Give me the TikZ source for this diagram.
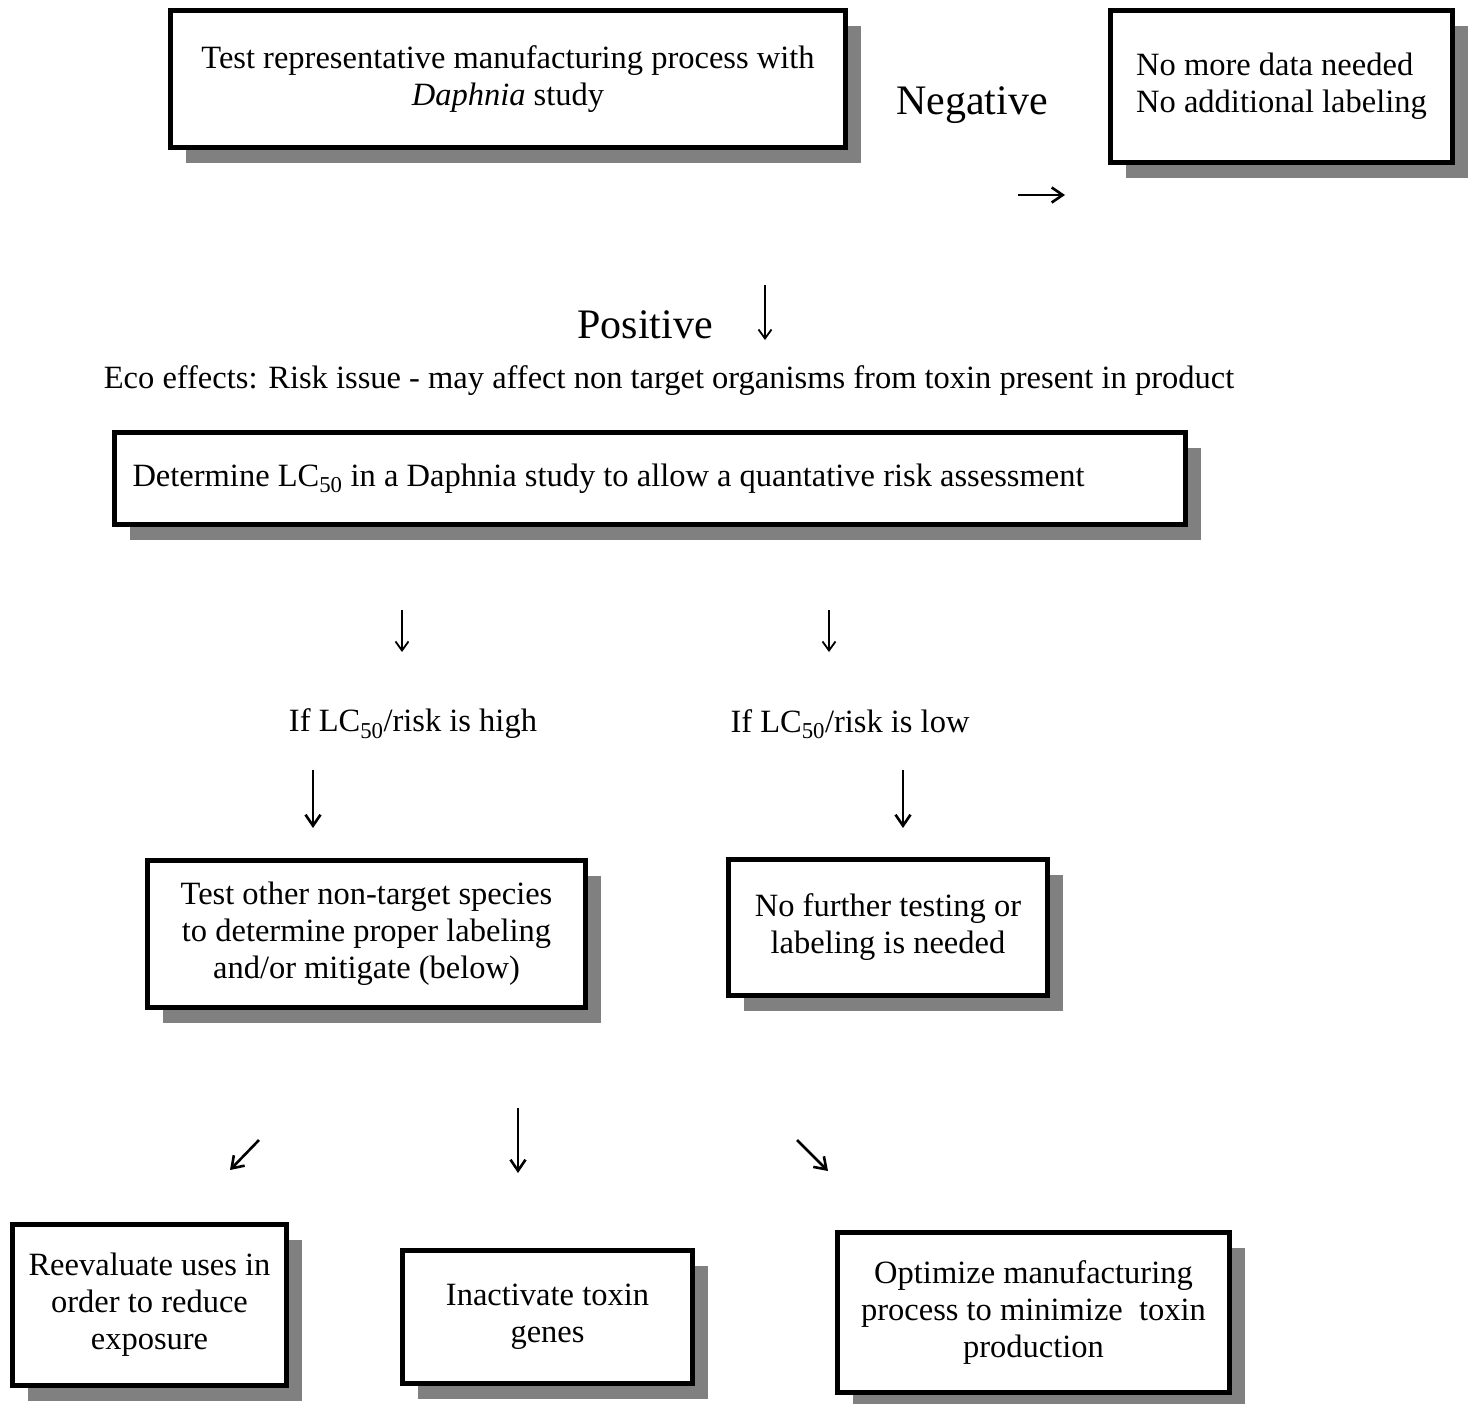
\documentclass[tikz,border=0pt]{standalone}
\usepackage{fontspec}
\setmainfont{Liberation Serif}
\usetikzlibrary{arrows.meta,shadows}
\definecolor{shadowgray}{RGB}{128,128,128}
\tikzset{
    box/.style ={
        rectangle,
        draw=black,
        line width=5pt,
        fill=white,
        align=center,
        general shadow={fill=shadowgray, shadow xshift=15pt, shadow yshift=-15pt},
        font=\fontsize{32.5}{37}\selectfont
    },
    label/.style={font=\fontsize{32.5}{37}\selectfont},
    biglabel/.style={font=\fontsize{42}{48}\selectfont},
    arr/.style={-{Straight Barb[length=9pt,width=13pt]}, line width=1.8pt},
    bigarr/.style={-{Straight Barb[length=11pt,width=15pt]}, line width=2.6pt}
}

\begin{document}
\begin{tikzpicture}[x=1pt,y=-1pt]
        \useasboundingbox (0,0) rectangle (1475,1403);
        \node[box,minimum width=675pt,minimum height=137pt] (TEST) at(508,79) {Test representative manufacturing process with\\\textit{Daphnia} study};
        \node[box,minimum width=342pt,minimum height=152pt,align=left] (NODATA) at(1281.5,86.5) {No more data needed\\No additional labeling};
        \node[box,minimum height=92pt,text width=1035pt,inner xsep=18pt,align=flush left] (LC) at(650,478.5) {Determine LC\textsubscript{50} in a Daphnia study to allow a quantative risk assessment};
        \node[box,minimum width=438pt,minimum height=147pt] (OTHER) at(366.5,934) {Test other non-target species\\to determine proper labeling\\and/or mitigate (below)};
        \node[box,minimum width=319pt,minimum height=136pt] (NOFURTHER) at(888,927.5) {No further testing or\\labeling is needed};
        \node[box,minimum width=274pt,minimum height=161pt] (REUSE) at(149.5,1305) {Reevaluate uses in\\order to reduce\\exposure};
        \node[box,minimum width=290pt,minimum height=133pt] (GENES) at(547.5,1317) {Inactivate toxin\\genes};
        \node[box,minimum width=392pt,minimum height=160pt] (OPTIMIZE) at(1033.5,1312.5) {Optimize manufacturing\\process to minimize\ \ toxin\\production};
        % labels
        \node[biglabel] (NEG) at(972,105) {Negative};
        \node[biglabel] (POS) at(645,325) {Positive};
        \node[label] (ECO) at(669,381) {Eco effects: Risk issue - may affect non target organisms from toxin present in product};
        \node[label] (HIGH) at(413,724) {If LC\textsubscript{50}/risk is high};
        \node[label] (LOW) at(850,724) {If LC\textsubscript{50}/risk is low};
        % arrows
        \coordinate (NEGA) at(1018,195);
        \coordinate (NEGB) at(1065,195);
        \coordinate (POSA) at(765,285);
        \coordinate (POSB) at(765,340);
        \coordinate (HIGHA) at(402,610);
        \coordinate (HIGHB) at(402,652);
        \coordinate (LOWA) at(829,610);
        \coordinate (LOWB) at(829,652);
        \coordinate (OTHERA) at(313,770);
        \coordinate (OTHERB) at(313,828);
        \coordinate (NOFURA) at(903,770);
        \coordinate (NOFURB) at(903,828);
        \coordinate (REUSEA) at(259,1140);
        \coordinate (REUSEB) at(230,1170);
        \coordinate (GENESA) at(518,1108);
        \coordinate (GENESB) at(518,1173);
        \coordinate (OPTA) at(797,1140);
        \coordinate (OPTB) at(828,1171);
        \draw[bigarr] (NEGA)--(NEGB);
        \draw[arr] (POSA)--(POSB);
        \draw[arr] (HIGHA)--(HIGHB);
        \draw[arr] (LOWA)--(LOWB);
        \draw[bigarr] (OTHERA)--(OTHERB);
        \draw[bigarr] (NOFURA)--(NOFURB);
        \draw[bigarr] (REUSEA)--(REUSEB);
        \draw[bigarr] (GENESA)--(GENESB);
        \draw[bigarr] (OPTA)--(OPTB);
    \end{tikzpicture}
\end{document}
